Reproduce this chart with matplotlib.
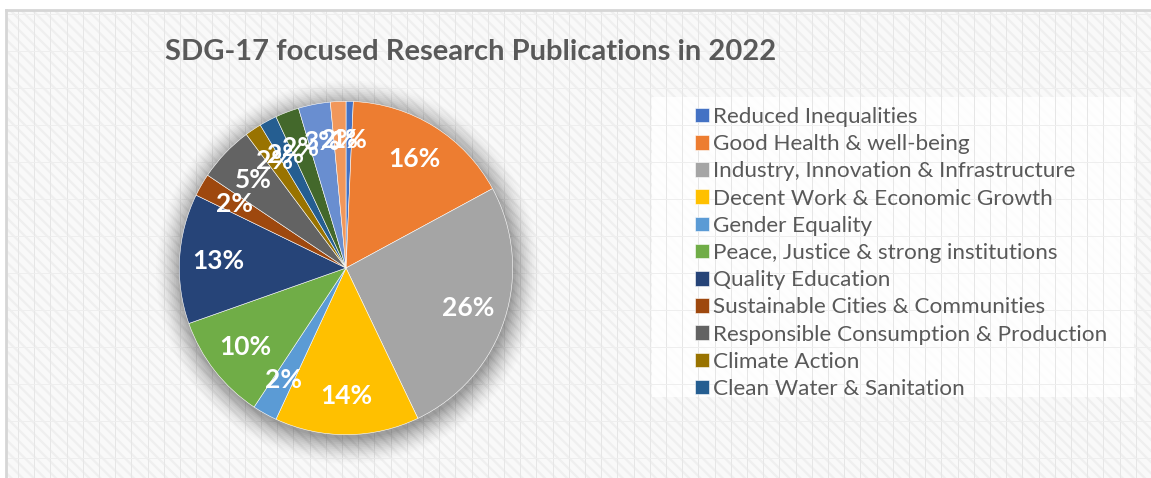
import numpy as np
import matplotlib.pyplot as plt
from matplotlib.patches import Rectangle, Circle

plt.rcParams['font.family'] = ['Lato', 'DejaVu Sans']
plt.rcParams['hatch.linewidth'] = 1.6

# slices, clockwise from 12 o'clock (share of publications, %)
goals = ['Reduced Inequalities', 'Good Health & well-being',
         'Industry, Innovation & Infrastructure', 'Decent Work & Economic Growth',
         'Gender Equality', 'Peace, Justice & strong institutions',
         'Quality Education', 'Sustainable Cities & Communities',
         'Responsible Consumption & Production', 'Climate Action',
         'Clean Water & Sanitation', 'Life on Land', 'Zero Hunger',
         'Affordable & Clean Energy']
share = [0.7, 16.4, 25.8, 14.0, 2.4, 10.3, 12.6, 2.2, 5.4, 1.6, 1.7, 2.3, 3.1, 1.5]
colors = ['#4472C4', '#ED7D31', '#A5A5A5', '#FFC000', '#5B9BD5', '#70AD47',
          '#264478', '#9E480E', '#636363', '#997300', '#255E91', '#43682B',
          '#698ED0', '#F1975A']
n_legend = 11  # legend in the source only shows the first 11 entries

W, H = 1151, 478
fig = plt.figure(figsize=(W / 100, H / 100), dpi=100)
fig.patch.set_facecolor('white')

# textured chart area background
bg = fig.add_axes([6 / W, 0, 1 - 6 / W, (H - 10) / H])
bg.set_xlim(0, W - 6)
bg.set_ylim(0, H - 10)
bg.add_patch(Rectangle((0, 0), W - 6, H - 10, facecolor='#f9f9f9',
                       edgecolor='#efefef', hatch='\\\\\\', lw=0))
for x in np.arange(12, W, 16.2):
    bg.axvline(x, color='#e6e6e6', lw=0.7)
for y in np.arange(20, H, 37):
    bg.axhline(y, color='#eeeeee', lw=0.7)
# legend panel
bg.add_patch(Rectangle((646, 81), 482, 300, facecolor='white', alpha=0.85, lw=0))
bg.set_xticks([])
bg.set_yticks([])
for s in ['right', 'bottom']:
    bg.spines[s].set_visible(False)
for s in ['top', 'left']:
    bg.spines[s].set_color('#d6d6d6')
    bg.spines[s].set_linewidth(2)

# pie
cx, cy, size = 346, H - 268, 400
ax = fig.add_axes([(cx - size / 2) / W, (cy - size / 2) / H, size / W, size / H])
ax.axis('off')

# soft shadow
for r, a in zip(np.linspace(1.15, 1.0, 15), np.linspace(0.01, 0.045, 15)):
    ax.add_patch(Circle((0.01, -0.025), r, color='black', alpha=a, lw=0))

wedges, _, autotexts = ax.pie(share, colors=colors, startangle=90, counterclock=False,
                              autopct='%1.0f%%', pctdistance=0.77, radius=1.0,
                              wedgeprops=dict(edgecolor='white', linewidth=0.4),
                              textprops=dict(color='white', fontsize=19, fontweight='bold'))
ax.set_xlim(-1.2, 1.2)
ax.set_ylim(-1.2, 1.2)

fig.text(165 / W, (H - 52) / H, 'SDG-17 focused Research Publications in 2022',
         ha='left', va='center', fontsize=21, fontweight='bold', color='#595959')

leg = fig.legend(wedges[:n_legend], goals[:n_legend], loc='upper left',
                 bbox_to_anchor=(695 / W, (H - 107) / H),
                 frameon=False, fontsize=16.2,
                 handlelength=0.62, handleheight=0.62, handletextpad=0.18,
                 labelspacing=0.32, borderpad=0, borderaxespad=0)
for t in leg.get_texts():
    t.set_color('#595959')

fig.savefig('out.png', dpi=100)
